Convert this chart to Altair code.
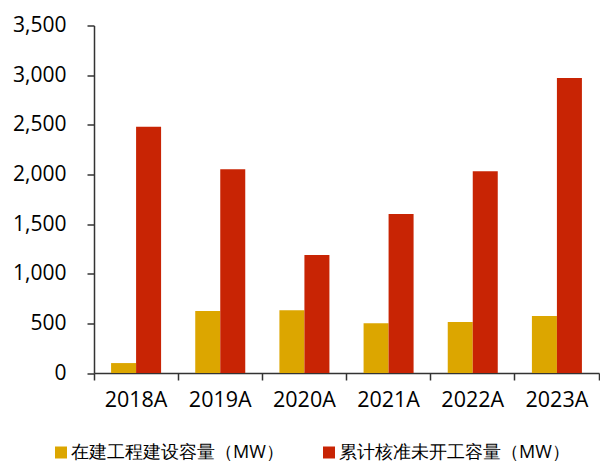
import altair as alt
import pandas as pd

years = ["2018A", "2019A", "2020A", "2021A", "2022A", "2023A"]
series_names = ["在建工程建设容量（MW）", "累计核准未开工容量（MW）"]
under_construction = [100, 624, 631, 500, 513, 574]
approved_not_started = [2480, 2051, 1188, 1601, 2031, 2970]
colors = ["#DCA600", "#C82404"]

rows = []
for i, y in enumerate(years):
    rows.append({"year": y, "series": series_names[0], "value": under_construction[i]})
    rows.append({"year": y, "series": series_names[1], "value": approved_not_started[i]})
df = pd.DataFrame(rows)

FONT = "Open Sans"

chart = alt.Chart(df).mark_bar().encode(
    x=alt.X("year:N", sort=years, title=None,
            scale=alt.Scale(paddingInner=0, paddingOuter=0),
            axis=alt.Axis(bandPosition=1, tickExtra=True,
                          labelAngle=0, labelFontSize=21.5, labelFont=FONT,
                          labelColor="#000000", labelPadding=9,
                          domainColor="#333333", tickColor="#333333",
                          tickSize=7, domainWidth=1.5, tickWidth=1.5)),
    xOffset=alt.XOffset("series:N", sort=series_names,
                        scale=alt.Scale(paddingInner=0, paddingOuter=0.683)),
    y=alt.Y("value:Q", title=None,
            scale=alt.Scale(domain=[0, 3500], nice=False),
            axis=alt.Axis(values=[0, 500, 1000, 1500, 2000, 2500, 3000, 3500],
                          format=",.0f", grid=False, labelFontSize=21,
                          labelFont=FONT, labelColor="#000000",
                          labelPadding=21, domainColor="#333333",
                          tickColor="#333333", tickSize=7,
                          domainWidth=1.5, tickWidth=1.5)),
    color=alt.Color("series:N", sort=series_names,
                    scale=alt.Scale(domain=series_names, range=colors),
                    legend=alt.Legend(title=None, orient="none",
                                      legendX=-42, legendY=418,
                                      direction="horizontal",
                                      symbolType="square", symbolSize=144,
                                      symbolStrokeWidth=0,
                                      labelFontSize=18, labelFont=FONT,
                                      labelColor="#000000", labelLimit=0,
                                      labelOffset=1, columnPadding=36)),
).properties(
    width=505, height=347.5,
    padding={"left": 94, "top": 25.5, "right": 1, "bottom": 89},
    autosize=alt.AutoSizeParams(type="none"),
).configure_view(stroke=None)

chart.save("out.html", embed_options={"renderer": "svg", "actions": False})
